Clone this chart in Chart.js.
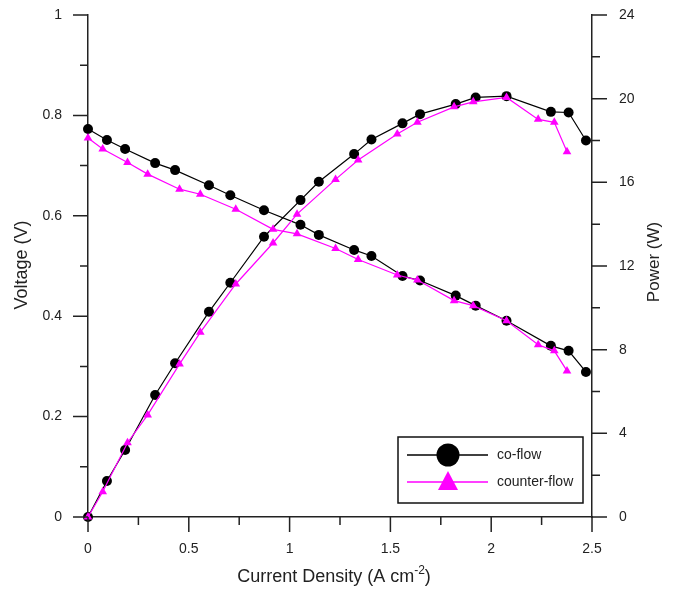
<!DOCTYPE html>
<html>
<head>
<meta charset="utf-8">
<script src="https://cdn.jsdelivr.net/npm/chart.js@4.4.0/dist/chart.umd.min.js"></script>
<style>
  html, body { margin: 0; padding: 0; background: #fff; }
</style>
</head>
<body>
<canvas id="chart" width="677" height="590"></canvas>
<script>
// co-flow: current density (A cm-2), voltage (V), power (W)
const coX = [0, 0.094, 0.184, 0.333, 0.432, 0.60, 0.706, 0.873, 1.054, 1.145, 1.32, 1.406, 1.56, 1.647, 1.824, 1.923, 2.076, 2.296, 2.384, 2.47];
const coV = [0.773, 0.751, 0.733, 0.705, 0.691, 0.661, 0.641, 0.611, 0.582, 0.562, 0.532, 0.52, 0.48, 0.471, 0.441, 0.421, 0.391, 0.341, 0.331, 0.289];
const coP = [0, 1.72, 3.2, 5.83, 7.35, 9.81, 11.2, 13.4, 15.15, 16.03, 17.35, 18.05, 18.82, 19.26, 19.74, 20.06, 20.12, 19.37, 19.34, 18.0];

// counter-flow
const ctX = [0, 0.073, 0.196, 0.296, 0.454, 0.557, 0.733, 0.918, 1.037, 1.228, 1.34, 1.534, 1.634, 1.816, 1.911, 2.076, 2.233, 2.313, 2.376];
const ctV = [0.755, 0.733, 0.706, 0.683, 0.653, 0.643, 0.613, 0.573, 0.564, 0.535, 0.513, 0.482, 0.472, 0.431, 0.421, 0.391, 0.343, 0.331, 0.291];
const ctP = [0, 1.21, 3.55, 4.88, 7.31, 8.83, 11.14, 13.1, 14.48, 16.14, 17.07, 18.31, 18.87, 19.61, 19.85, 20.06, 19.01, 18.87, 17.46];

const seriesNames = ['co-flow', 'counter-flow'];
const FONT = '"Liberation Sans", Arial, sans-serif';
const AXIS = '#222';

const pts = (xs, ys) => xs.map((x, i) => ({ x, y: ys[i] }));
const plain = v => String(Number(v.toFixed(2)));

function lineSet(label, data, axis, color, style, order) {
  return {
    label, data, yAxisID: axis, order,
    borderColor: color, backgroundColor: color,
    borderWidth: 1.2, pointStyle: style, pointRadius: 5,
    pointBorderWidth: 0, showLine: true, clip: false, tension: 0
  };
}

function fixSize(w, h) {
  return s => {
    if (w) s.width = w;
    if (h) s.height = h;
    s.paddingTop = 0; s.paddingBottom = 0;
    s.paddingLeft = 0; s.paddingRight = 0;
  };
}

// minor/major ticks, axis titles and legend
const decor = {
  id: 'decor',
  afterDraw(chart) {
    const ctx = chart.ctx;
    const { x, y, y1 } = chart.scales;
    const area = chart.chartArea;
    ctx.save();
    ctx.strokeStyle = AXIS;
    ctx.lineWidth = 1.5;
    ctx.beginPath();
    for (let i = 0; i <= 10; i++) {
      const px = x.getPixelForValue(i * 0.25);
      const len = i % 2 === 0 ? 15 : 8;
      ctx.moveTo(px, area.bottom); ctx.lineTo(px, area.bottom + len);
    }
    for (let i = 0; i <= 10; i++) {
      const py = y.getPixelForValue(i * 0.1);
      const len = i % 2 === 0 ? 15 : 8;
      ctx.moveTo(area.left, py); ctx.lineTo(area.left - len, py);
    }
    for (let i = 0; i <= 12; i++) {
      const py = y1.getPixelForValue(i * 2);
      const len = i % 2 === 0 ? 15 : 8;
      ctx.moveTo(area.right, py); ctx.lineTo(area.right + len, py);
    }
    ctx.stroke();

    // axis titles
    ctx.fillStyle = '#222';
    ctx.textBaseline = 'middle';
    ctx.textAlign = 'center';
    ctx.save();
    ctx.font = '18px ' + FONT;
    ctx.translate(22, 265);
    ctx.rotate(-Math.PI / 2);
    ctx.fillText('Voltage (V)', 0, 0);
    ctx.restore();
    ctx.save();
    ctx.font = '17px ' + FONT;
    ctx.translate(654, 262);
    ctx.rotate(-Math.PI / 2);
    ctx.fillText('Power (W)', 0, 0);
    ctx.restore();

    const a = 'Current Density (A cm', sup = '-2', b = ')';
    ctx.textAlign = 'left';
    ctx.font = '18px ' + FONT;
    const wa = ctx.measureText(a).width, wb = ctx.measureText(b).width;
    ctx.font = '12px ' + FONT;
    const ws = ctx.measureText(sup).width;
    let tx = 334 - (wa + ws + wb) / 2;
    const ty = 577;
    ctx.font = '18px ' + FONT;
    ctx.fillText(a, tx, ty);
    tx += wa;
    ctx.font = '12px ' + FONT;
    ctx.fillText(sup, tx, ty - 6);
    tx += ws;
    ctx.font = '18px ' + FONT;
    ctx.fillText(b, tx, ty);

    // legend
    ctx.lineWidth = 1.5;
    ctx.strokeStyle = '#111';
    ctx.strokeRect(398, 437, 185, 66);
    const rows = [
      { c: '#000', style: 'circle', yy: 455 },
      { c: '#ff00ff', style: 'triangle', yy: 482 }
    ];
    rows.forEach((r, i) => {
      ctx.strokeStyle = r.c;
      ctx.fillStyle = r.c;
      ctx.lineWidth = 1.5;
      ctx.beginPath();
      ctx.moveTo(407, r.yy); ctx.lineTo(488, r.yy);
      ctx.stroke();
      ctx.beginPath();
      if (r.style === 'circle') {
        ctx.arc(448, r.yy, 11.5, 0, Math.PI * 2);
      } else {
        ctx.moveTo(448, r.yy - 11);
        ctx.lineTo(458, r.yy + 8);
        ctx.lineTo(438, r.yy + 8);
        ctx.closePath();
      }
      ctx.fill();
      ctx.fillStyle = '#222';
      ctx.font = '14px ' + FONT;
      ctx.textAlign = 'left';
      ctx.textBaseline = 'middle';
      ctx.fillText(seriesNames[i], 497, r.yy);
    });
    ctx.restore();
  }
};

const tickFont = { family: FONT, size: 14 };

new Chart(document.getElementById('chart'), {
  type: 'scatter',
  data: {
    datasets: [
      lineSet(seriesNames[0] + ' V', pts(coX, coV), 'y', '#000', 'circle', 1),
      lineSet(seriesNames[0] + ' P', pts(coX, coP), 'y1', '#000', 'circle', 1),
      lineSet(seriesNames[1] + ' V', pts(ctX, ctV), 'y', '#ff00ff', 'triangle', 0),
      lineSet(seriesNames[1] + ' P', pts(ctX, ctP), 'y1', '#ff00ff', 'triangle', 0)
    ]
  },
  options: {
    responsive: false,
    animation: false,
    devicePixelRatio: 1,
    layout: { padding: { top: 15, left: 0, right: 0, bottom: 0 } },
    plugins: { legend: { display: false }, tooltip: { enabled: false } },
    scales: {
      x: {
        type: 'linear', position: 'bottom', min: 0, max: 2.5,
        grid: { display: false, drawTicks: false },
        border: { display: true, color: AXIS, width: 1.5 },
        ticks: { stepSize: 0.5, padding: 24, color: '#222', font: tickFont, maxRotation: 0, callback: plain },
        afterFit: fixSize(0, 73)
      },
      y: {
        position: 'left', min: 0, max: 1,
        grid: { display: false, drawTicks: false },
        border: { display: true, color: AXIS, width: 1.5 },
        ticks: { stepSize: 0.2, padding: 26, color: '#222', font: tickFont, callback: plain },
        afterFit: fixSize(88, 0)
      },
      y1: {
        position: 'right', min: 0, max: 24,
        grid: { display: false, drawTicks: false },
        border: { display: true, color: AXIS, width: 1.5 },
        ticks: { stepSize: 4, padding: 27, color: '#222', font: tickFont, callback: plain },
        afterFit: fixSize(85, 0)
      }
    }
  },
  plugins: [decor]
});
</script>
</body>
</html>
